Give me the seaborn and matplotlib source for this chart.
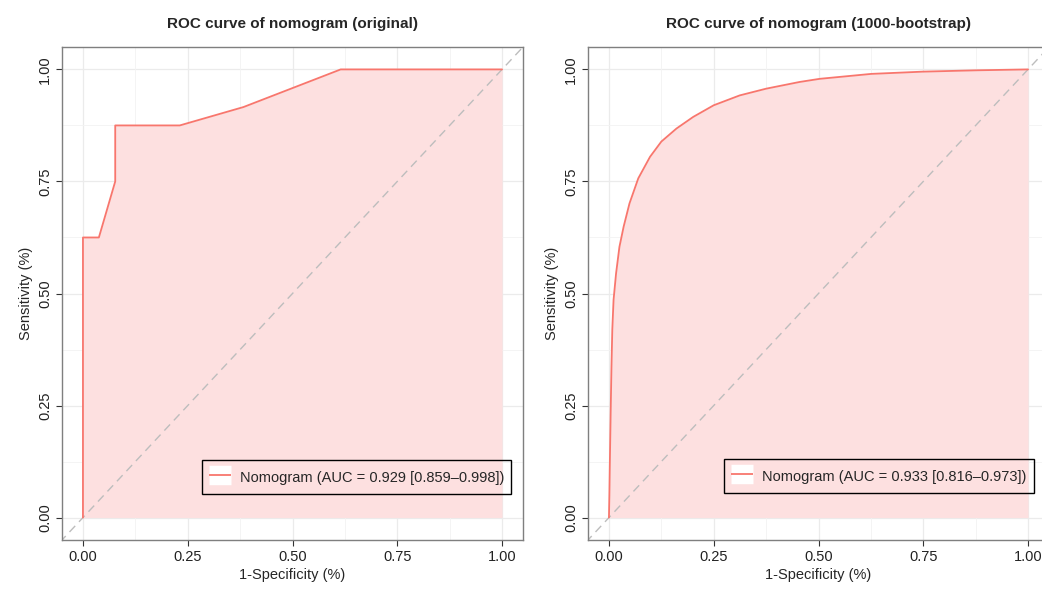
import matplotlib
matplotlib.use("Agg")
import matplotlib.pyplot as plt
import matplotlib.patheffects as pe
import seaborn as sns
import pandas as pd
from matplotlib.lines import Line2D

# ---- data ----
orig_fpr = [0.0, 0.0, 0.038, 0.077, 0.077, 0.231, 0.383, 0.615, 1.0]
orig_tpr = [0.0, 0.625, 0.625, 0.75, 0.875, 0.875, 0.916, 1.0, 1.0]
boot_fpr = [0.0, 0.001, 0.002, 0.004, 0.006, 0.008, 0.011, 0.017, 0.025, 0.035,
            0.049, 0.070, 0.098, 0.125, 0.161, 0.201, 0.250, 0.312, 0.375, 0.455,
            0.503, 0.626, 0.749, 0.877, 1.0]
boot_tpr = [0.0, 0.05, 0.114, 0.23, 0.337, 0.42, 0.486, 0.545, 0.604, 0.649,
            0.701, 0.757, 0.805, 0.839, 0.868, 0.894, 0.920, 0.942, 0.957, 0.972,
            0.979, 0.990, 0.995, 0.998, 1.0]
titles = ["ROC curve of nomogram (original)", "ROC curve of nomogram (1000-bootstrap)"]
labels = ["Nomogram (AUC = 0.929 [0.859\u20130.998])",
          "Nomogram (AUC = 0.933 [0.816\u20130.973])"]
ticks = [0.0, 0.25, 0.5, 0.75, 1.0]
tick_labels = ["0.00", "0.25", "0.50", "0.75", "1.00"]
minor = [0.125, 0.375, 0.625, 0.875]

sns.set_theme(style="white")
plt.rcParams['font.family'] = ['Liberation Sans', 'DejaVu Sans']

LINE = "#F8766D"
FILL = "#FDE0E0"
fig = plt.figure(figsize=(10.42, 5.93), dpi=100)
W, H = 1042, 593
axes = [fig.add_axes([62 / W, 53 / H, 461 / W, 493 / H]),
        fig.add_axes([588 / W, 53 / H, 461 / W, 493 / H])]

data = [(orig_fpr, orig_tpr), (boot_fpr, boot_tpr)]
anchors = [(0.975 + 7 / 461, 0.078), (0.963 + 9 / 461, 0.080)]
for ax, (fx, ty), title, lab, anc in zip(axes, data, titles, labels, anchors):
    ax.set_xlim(-0.05, 1.05)
    ax.set_ylim(-0.05, 1.05)
    ax.set_facecolor("white")
    for v in ticks:
        ax.axvline(v, color="#EBEBEB", lw=0.9, zorder=0)
        ax.axhline(v, color="#EBEBEB", lw=0.9, zorder=0)
    for v in minor:
        ax.axvline(v, color="#F3F3F3", lw=0.6, zorder=0)
        ax.axhline(v, color="#F3F3F3", lw=0.6, zorder=0)
    df = pd.DataFrame({"fpr": fx, "tpr": ty})
    ax.fill_between(df["fpr"], 0, df["tpr"], color=FILL, lw=0, zorder=1)
    sns.lineplot(data=df, x="fpr", y="tpr", ax=ax, color=LINE, lw=1.3,
                 sort=False, estimator=None, zorder=3)
    ax.plot([-0.1, 1.1], [-0.1, 1.1], ls=(0, (6, 4)), color="#BDBDBD", lw=1.0, zorder=2)
    ax.set_xticks(ticks)
    ax.set_xticklabels(tick_labels)
    ax.set_yticks(ticks)
    ax.set_yticklabels(tick_labels, rotation=90, va="center")
    ax.tick_params(axis="both", which="major", length=4, width=0.8, color="#333333",
                   labelsize=10.5, labelcolor="#222222", direction="out",
                   bottom=True, left=True, pad=3)
    for s in ax.spines.values():
        s.set_color("#7F7F7F")
        s.set_linewidth(1.0)
    ax.set_xlabel("1-Specificity (%)", fontsize=10.5, labelpad=3)
    ax.set_ylabel("Sensitivity (%)", fontsize=10.5, labelpad=4)
    ax.set_title(title, fontsize=11, fontweight="bold", pad=14)
    handle = Line2D([0], [0], color=LINE, lw=1.3, solid_capstyle="butt",
                    path_effects=[pe.Stroke(linewidth=14, foreground="white",
                                            capstyle="butt"), pe.Normal()])
    leg = ax.legend([handle], [lab], loc="lower right", bbox_to_anchor=anc,
                    fontsize=10.5, frameon=True, fancybox=False, framealpha=1,
                    edgecolor="black", handlelength=1.5, handleheight=1.7,
                    borderpad=0.5, handletextpad=0.6)
    leg.get_frame().set_facecolor("none")
    leg.get_frame().set_linewidth(1.0)

fig.savefig("out.png", dpi=100)
